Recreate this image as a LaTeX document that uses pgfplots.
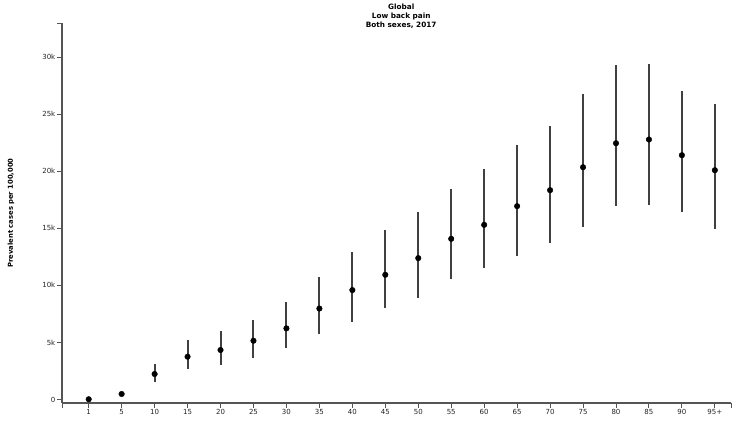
\documentclass[border=0pt]{standalone}
\usepackage{fontspec}
\setmainfont{DejaVu Sans}
\usepackage{pgfplots}
\usepackage{pgfplotstable}
\pgfplotsset{compat=1.18}

\definecolor{axisgray}{HTML}{555555}
\definecolor{bargray}{HTML}{404040}
\definecolor{labelgray}{HTML}{222222}

% age group index, mean, upper minus mean, mean minus lower
\pgfplotstableread{
x  y      ep    em
0  20     10    10
1  480    170   180
2  2233   849   701
3  3748   1462  1104
4  4335   1663  1314
5  5149   1813  1541
6  6235   2303  1725
7  7970   2770  2190
8  9589   3301  2829
9  10929  3914  2943
10 12391  4028  3476
11 14081  4379  3529
12 15307  4936  3765
13 16945  5403  4405
14 18346  5604  4626
15 20360  6453  5280
16 22462  6831  5544
17 22786  6594  5754
18 21411  5631  4991
19 20097  5841  5140
}\prevtable

\begin{document}
\begin{tikzpicture}
\path[use as bounding box] (0,0) rectangle (744pt,427pt);
\begin{axis}[
    at={(62pt,24.1pt)}, anchor=south west,
    scale only axis,
    width=669pt, height=379.9pt,
    xmin=-0.81, xmax=19.49,
    ymin=-300, ymax=33000,
    axis x line=bottom, axis y line=left,
    axis line style={-, line width=1.3pt, color=axisgray},
    xtick={0,...,19},
    xticklabels={1,5,10,15,20,25,30,35,40,45,50,55,60,65,70,75,80,85,90,95+},
    ytick={0,5000,10000,15000,20000,25000,30000},
    yticklabels={0,5k,10k,15k,20k,25k,30k},
    scaled y ticks=false,
    extra y ticks={33000}, extra y tick labels={},
    extra x ticks={-0.81,19.49}, extra x tick labels={},
    tick align=outside,
    major tick length=5pt,
    tick style={line width=0.9pt, color=axisgray},
    tick label style={font=\fontsize{7}{8}\selectfont, color=labelgray},
    xticklabel style={inner sep=1.5pt},
    yticklabel style={inner sep=1.5pt},
    title={Global\\Low back pain\\Both sexes, 2017},
    title style={at={(axis description cs:0.507,1)}, anchor=north, yshift=13pt,
        align=center, inner sep=0pt, font=\bfseries\fontsize{7.3}{9}\selectfont},
    ylabel={Prevalent cases per 100,000},
    every axis y label/.style={at={(axis description cs:-0.0762,0.5)}, rotate=90,
        anchor=center, font=\bfseries\fontsize{6.8}{8}\selectfont},
    clip=false,
]
\addplot[only marks, mark=*, mark size=2.8pt, color=black,
    error bars/.cd, y dir=both, y explicit, error mark=none,
    error bar style={line width=2pt, color=bargray}]
    table[x=x, y=y, y error plus=ep, y error minus=em]{\prevtable};
\end{axis}
\end{tikzpicture}
\end{document}
